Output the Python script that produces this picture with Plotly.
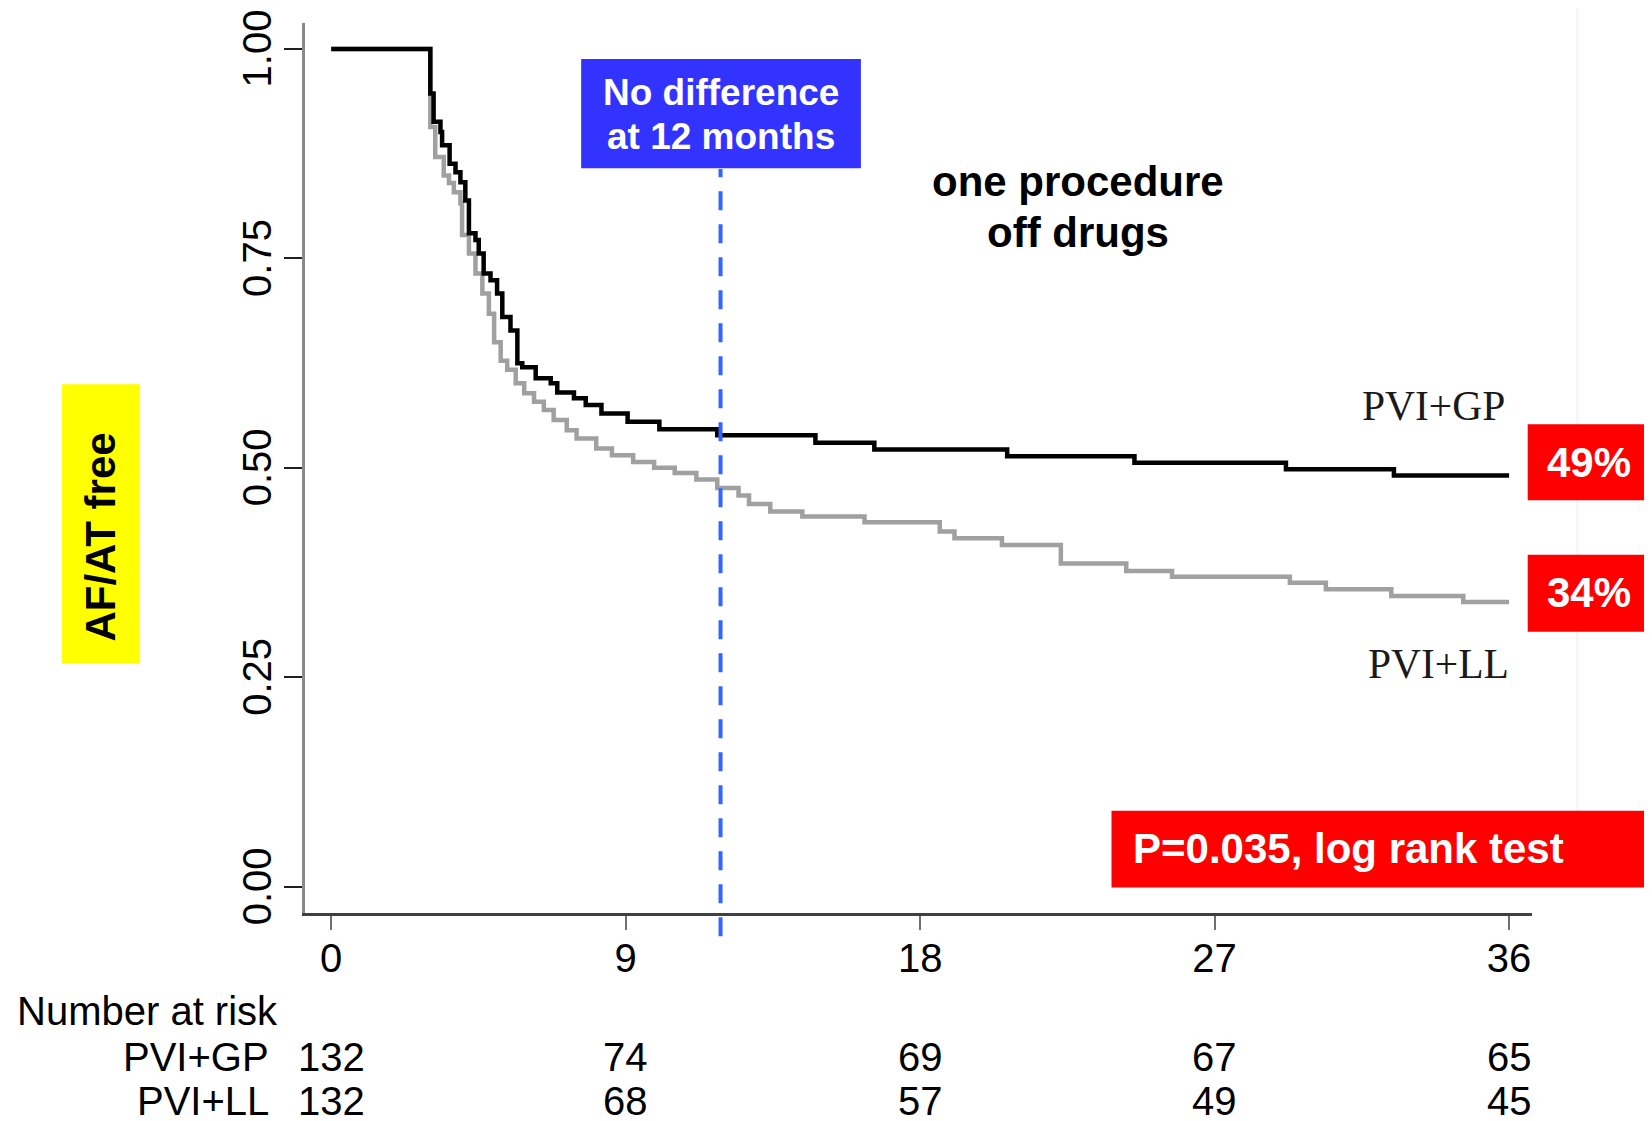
import plotly.graph_objects as go

# Kaplan-Meier step data (months, proportion AF/AT free)
gp_months = [0, 3.03, 3.13, 3.34, 3.39, 3.62, 3.80, 3.95, 4.10, 4.21, 4.41, 4.51, 4.66,
             4.87, 5.07, 5.23, 5.48, 5.69, 5.84, 6.25, 6.71, 6.91, 7.42, 7.78, 8.26,
             9.06, 10.03, 11.8, 14.8, 16.6, 20.66, 24.55, 29.18, 32.48, 36]
gp_surv = [1.0, 0.947, 0.913, 0.901, 0.885, 0.863, 0.853, 0.841, 0.819, 0.780, 0.772,
           0.756, 0.732, 0.724, 0.708, 0.680, 0.664, 0.625, 0.620, 0.607, 0.601, 0.590,
           0.583, 0.575, 0.565, 0.555, 0.546, 0.539, 0.530, 0.522, 0.514, 0.506, 0.4985,
           0.491, 0.491]

ll_months = [0, 3.03, 3.18, 3.44, 3.60, 3.75, 3.95, 4.00, 4.21, 4.41, 4.62, 4.82, 4.98,
             5.18, 5.38, 5.64, 5.90, 6.20, 6.50, 6.80, 7.20, 7.50, 8.10, 8.58, 9.23,
             9.87, 10.5, 11.16, 11.8, 12.45, 12.77, 13.42, 14.4, 16.3, 18.6, 19.05,
             20.5, 22.3, 24.3, 25.7, 29.3, 30.4, 32.4, 34.6, 36]
ll_surv = [1.0, 0.907, 0.871, 0.849, 0.840, 0.829, 0.816, 0.778, 0.756, 0.732, 0.708,
           0.684, 0.650, 0.628, 0.617, 0.601, 0.589, 0.579, 0.569, 0.557, 0.545, 0.535,
           0.523, 0.515, 0.507, 0.500, 0.494, 0.486, 0.476, 0.467, 0.457, 0.448, 0.442,
           0.435, 0.424, 0.416, 0.408, 0.386, 0.377, 0.370, 0.363, 0.355, 0.347, 0.340,
           0.340]

tick_months = [0, 9, 18, 27, 36]
tick_y = [0.0, 0.25, 0.5, 0.75, 1.0]
tick_y_text = ["0.00", "0.25", "0.50", "0.75", "1.00"]
risk_gp = [132, 74, 69, 67, 65]
risk_ll = [132, 68, 57, 49, 45]

SANS = "Liberation Sans, Arial, Helvetica, sans-serif"
SERIF = "Liberation Serif, Times New Roman, serif"
AX_SIZE = 40

fig = go.Figure()
fig.add_trace(go.Scatter(x=ll_months, y=ll_surv, mode="lines", line_shape="hv",
                         line=dict(color="#a0a0a0", width=4.5), name="PVI+LL"))
fig.add_trace(go.Scatter(x=gp_months, y=gp_surv, mode="lines", line_shape="hv",
                         line=dict(color="#000000", width=4.5), name="PVI+GP"))

# 12-month dashed marker
fig.add_shape(type="line", xref="x", yref="paper", x0=11.9, x1=11.9, y0=-0.026, y1=0.836,
              line=dict(color="#3366ff", width=4, dash="19px,14px"))

# faint slide edge
fig.add_shape(type="line", xref="paper", yref="paper", x0=1.037, x1=1.037, y0=0.1, y1=1.03,
              line=dict(color="#f3f3f3", width=2), layer="below")

# boxes
fig.add_shape(type="rect", xref="x", yref="y", x0=7.64, x1=16.19, y0=0.8576, y1=0.988,
              fillcolor="#3333ff", line_width=0)
fig.add_shape(type="rect", xref="paper", yref="y", x0=0.9965, x1=1.1, y0=0.4614, y1=0.552,
              fillcolor="#ff0000", line_width=0)
fig.add_shape(type="rect", xref="paper", yref="y", x0=0.9965, x1=1.1, y0=0.3045, y1=0.3964,
              fillcolor="#ff0000", line_width=0)
fig.add_shape(type="rect", xref="paper", yref="y", x0=0.6573, x1=1.1, y0=-0.001, y1=0.0908,
              fillcolor="#ff0000", line_width=0)
fig.add_shape(type="rect", xref="paper", yref="y", x0=-0.198, x1=-0.1345, y0=0.2665, y1=0.5998,
              fillcolor="#ffff00", line_width=0)


def note(text, x, y, xref="x", yref="y", size=42, color="black", family=SANS,
         xanchor="center", angle=0):
    fig.add_annotation(x=x, y=y, xref=xref, yref=yref, showarrow=False, text=text,
                       xanchor=xanchor, yanchor="middle", textangle=angle,
                       font=dict(family=family, size=size, color=color))


note("<b>No difference</b>", 11.91, 0.948, size=37, color="white")
note("<b>at 12 months</b>", 11.91, 0.895, size=37, color="white")
note("<b>one procedure</b>", 22.82, 0.8413, size=42)
note("<b>off drugs</b>", 22.82, 0.7805, size=42)
note("PVI+GP", 35.94, 0.5734, size=41.5, color="#1a1a1a", family=SERIF, xanchor="right")
note("PVI+LL", 36.07, 0.2665, size=41.5, color="#1a1a1a", family=SERIF, xanchor="right")
note("<b>49%</b>", 1.0464, 0.5068, xref="paper", color="white")
note("<b>34%</b>", 1.0464, 0.351, xref="paper", color="white")
note("<b>P=0.035, log rank test</b>", 0.6728, 0.0455, xref="paper", color="white", xanchor="left")
note("<b>AF/AT free</b>", -0.1663, 0.4179, xref="paper", angle=-90)

# number at risk table
note("Number at risk", -0.2363, -0.1103, xref="paper", yref="paper", size=AX_SIZE, xanchor="left")
for label, counts, yy in [("PVI+GP", risk_gp, -0.1615), ("PVI+LL", risk_ll, -0.2115)]:
    note(label, -0.0277, yy, xref="paper", yref="paper", size=AX_SIZE, xanchor="right")
    for m, n in zip(tick_months, counts):
        note(str(n), m, yy, yref="paper", size=AX_SIZE)

# page body has an 8px margin, so the figure is 8px smaller and margins shifted
fig.update_layout(
    width=1644, height=1113,
    margin=dict(l=297, r=120, t=15, b=208),
    paper_bgcolor="white", plot_bgcolor="white",
    showlegend=False,
)
fig.update_xaxes(range=[-0.8, 36.7], tickvals=tick_months, showgrid=False, zeroline=False,
                 showline=True, linecolor="#404040", linewidth=3, automargin=False,
                 ticks="outside", ticklen=14, tickwidth=2, tickcolor="#707070",
                 tickfont=dict(family=SANS, size=AX_SIZE, color="black"), ticklabelstandoff=-6)
# trailing no-break space nudges the rotated labels down to centre on their ticks
fig.update_yaxes(range=[-0.0313, 1.031], tickvals=tick_y,
                 ticktext=[t + "\u00a0" for t in tick_y_text],
                 showgrid=False, zeroline=False, automargin=False,
                 showline=True, linecolor="#8a8a8a", linewidth=3,
                 ticks="outside", ticklen=18, tickwidth=2, tickcolor="#202020", tickangle=-90,
                 tickfont=dict(family=SANS, size=AX_SIZE, color="black"),
                 ticklabelstandoff=-3, ticklabeloverflow="allow")

fig.write_html("out.html")
